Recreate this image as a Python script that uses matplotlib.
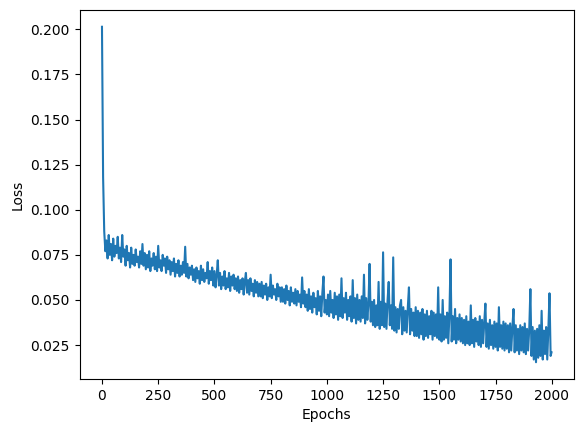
import numpy as np
import matplotlib
matplotlib.use("Agg")
import matplotlib.pyplot as plt

# training loss, one value every 5 epochs (last one at epoch 1999)
loss = [
    0.2014, 0.118, 0.088, 0.077, 0.083, 0.073, 0.086, 0.075, 0.081, 0.072, 0.084, 0.074, 0.080, 0.076, 0.085, 0.073, 0.079, 0.071, 0.086, 0.074,
    0.078, 0.069, 0.080, 0.072, 0.076, 0.068, 0.079, 0.070, 0.075, 0.069, 0.078, 0.071, 0.074, 0.068, 0.077, 0.070, 0.081, 0.069, 0.076, 0.067,
    0.075, 0.068, 0.077, 0.066, 0.073, 0.069, 0.076, 0.067, 0.074, 0.066, 0.080, 0.068, 0.072, 0.066, 0.075, 0.069, 0.073, 0.065, 0.074, 0.067,
    0.072, 0.064, 0.071, 0.066, 0.073, 0.063, 0.070, 0.065, 0.072, 0.063, 0.069, 0.064, 0.071, 0.065, 0.0795, 0.063, 0.070, 0.062, 0.068, 0.064,
    0.069, 0.061, 0.067, 0.060, 0.068, 0.062, 0.066, 0.059, 0.069, 0.061, 0.067, 0.060, 0.065, 0.062, 0.071, 0.059, 0.066, 0.061, 0.068, 0.058,
    0.066, 0.057, 0.064, 0.072, 0.058, 0.065, 0.056, 0.063, 0.058, 0.066, 0.056, 0.062, 0.057, 0.065, 0.055, 0.063, 0.058, 0.064, 0.056, 0.062,
    0.055, 0.063, 0.054, 0.061, 0.056, 0.062, 0.053, 0.060, 0.065, 0.054, 0.061, 0.053, 0.062, 0.055, 0.059, 0.052, 0.061, 0.054, 0.060, 0.052,
    0.059, 0.052, 0.060, 0.051, 0.058, 0.053, 0.059, 0.050, 0.057, 0.052, 0.064, 0.051, 0.058, 0.053, 0.056, 0.050, 0.059, 0.052, 0.057, 0.049,
    0.057, 0.049, 0.056, 0.048, 0.058, 0.050, 0.055, 0.047, 0.057, 0.049, 0.054, 0.048, 0.056, 0.047, 0.055, 0.049, 0.053, 0.046, 0.0625, 0.048,
    0.055, 0.046, 0.053, 0.044, 0.056, 0.045, 0.052, 0.043, 0.054, 0.046, 0.051, 0.042, 0.055, 0.044, 0.052, 0.041, 0.054, 0.063, 0.043, 0.050,
    0.042, 0.053, 0.041, 0.055, 0.043, 0.050, 0.040, 0.054, 0.042, 0.052, 0.039, 0.053, 0.041, 0.062, 0.040, 0.051, 0.043, 0.054, 0.039, 0.050,
    0.041, 0.052, 0.038, 0.061, 0.040, 0.051, 0.037, 0.053, 0.039, 0.050, 0.038, 0.052, 0.040, 0.064, 0.037, 0.051, 0.039, 0.048, 0.070, 0.038,
    0.049, 0.036, 0.050, 0.035, 0.047, 0.036, 0.060, 0.034, 0.049, 0.036, 0.0764, 0.035, 0.048, 0.034, 0.050, 0.060, 0.036, 0.047, 0.034, 0.0736,
    0.033, 0.046, 0.032, 0.045, 0.034, 0.047, 0.050, 0.031, 0.046, 0.033, 0.044, 0.032, 0.046, 0.057, 0.031, 0.045, 0.033, 0.043, 0.030, 0.046,
    0.030, 0.044, 0.029, 0.043, 0.031, 0.045, 0.028, 0.042, 0.030, 0.044, 0.029, 0.041, 0.031, 0.044, 0.028, 0.043, 0.030, 0.042, 0.029, 0.057,
    0.028, 0.042, 0.027, 0.050, 0.028, 0.041, 0.029, 0.043, 0.026, 0.042, 0.0725, 0.027, 0.041, 0.028, 0.045, 0.026, 0.040, 0.028, 0.042, 0.027,
    0.040, 0.026, 0.039, 0.025, 0.041, 0.026, 0.038, 0.025, 0.047, 0.026, 0.039, 0.024, 0.040, 0.027, 0.038, 0.025, 0.041, 0.024, 0.039, 0.026,
    0.038, 0.048, 0.024, 0.037, 0.023, 0.039, 0.025, 0.036, 0.023, 0.038, 0.024, 0.037, 0.022, 0.046, 0.024, 0.036, 0.023, 0.038, 0.022, 0.037,
    0.023, 0.036, 0.021, 0.037, 0.022, 0.035, 0.045, 0.021, 0.036, 0.022, 0.034, 0.020, 0.036, 0.022, 0.035, 0.021, 0.037, 0.020, 0.034, 0.022,
    0.034, 0.056, 0.019, 0.035, 0.017, 0.033, 0.0155, 0.034, 0.018, 0.036, 0.019, 0.044, 0.017, 0.033, 0.020, 0.035, 0.017, 0.034, 0.0537, 0.019,
    0.021,
]
epochs = np.append(np.arange(0, 2000, 5), 1999)

fig = plt.figure(figsize=(5.84, 4.32), dpi=100)
ax = fig.add_axes([79.5 / 584, 1 - 379 / 432, 494.5 / 584, 369 / 432])

ax.plot(epochs, loss)
ax.set_xlabel("Epochs")
ax.set_ylabel("Loss")

fig.savefig("out.png")
